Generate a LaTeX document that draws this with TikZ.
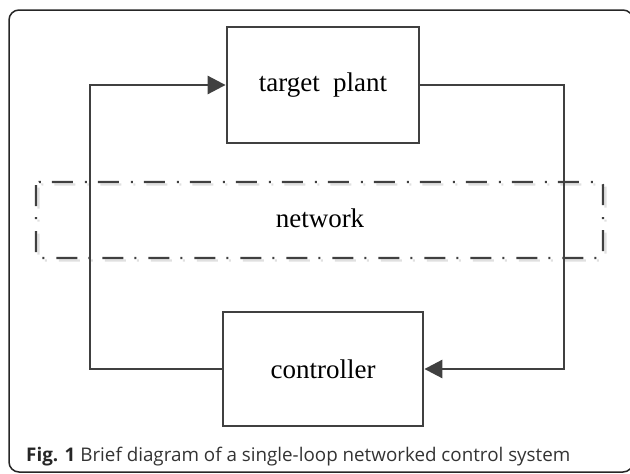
\documentclass[tikz,border=0pt]{standalone}
\usepackage{fontspec}
\setmainfont{Liberation Serif}
\newfontfamily\capfont{Open Sans}
\usetikzlibrary{arrows.meta}
\definecolor{ln}{HTML}{404040}
\definecolor{capc}{HTML}{333333}
\tikzset{
  blockbox/.style={draw=ln, line width=2.8pt, minimum width=#1, inner sep=0pt},
  lbl/.style={font=\fontsize{27}{30}\selectfont},
  conn/.style={draw=ln, line width=2.8pt},
  arr/.style={conn, -{Triangle[length=18pt,width=18pt]}},
  netdash/.style={line width=2.4pt, dash pattern=on 21pt off 11pt on 2pt off 12pt, rounded corners=3pt},
}
\begin{document}
\begin{tikzpicture}[x=1pt,y=-1pt]
\useasboundingbox (0,0) rectangle (630,474);
% outer frame
\draw[line width=1.5pt, draw=black!85, rounded corners=10pt] (9,10) rectangle (633,472);
% network box (shadow + main)
\draw[netdash, draw=black!12] (38.5,184.5) rectangle (605.5,260.5);
\draw[netdash, draw=ln] (36,182) rectangle (603,258);
\node[lbl] (net) at (320,218) {network};
% blocks
\node[blockbox=192pt, minimum height=116pt, lbl] (plant) at (323,85) {target\ \ plant};
\node[blockbox=200pt, minimum height=114pt, lbl] (ctrl) at (323,369) {controller};
% connectors
\coordinate (r1) at (564,85);
\coordinate (r2) at (564,369);
\coordinate (l1) at (90,369);
\coordinate (l2) at (90,85);
\draw[arr] (plant.east) -- (r1) -- (r2) -- (ctrl.east);
\draw[arr] (ctrl.west) -- (l1) -- (l2) -- (plant.west);
% caption
\node[anchor=base west, inner sep=0pt, font=\capfont\fontsize{18.8}{22}\selectfont, text=capc] (cap) at (26,461)
  {{\bfseries\color{black!85}Fig. 1} Brief diagram of a single-loop networked control system};
\end{tikzpicture}
\end{document}
